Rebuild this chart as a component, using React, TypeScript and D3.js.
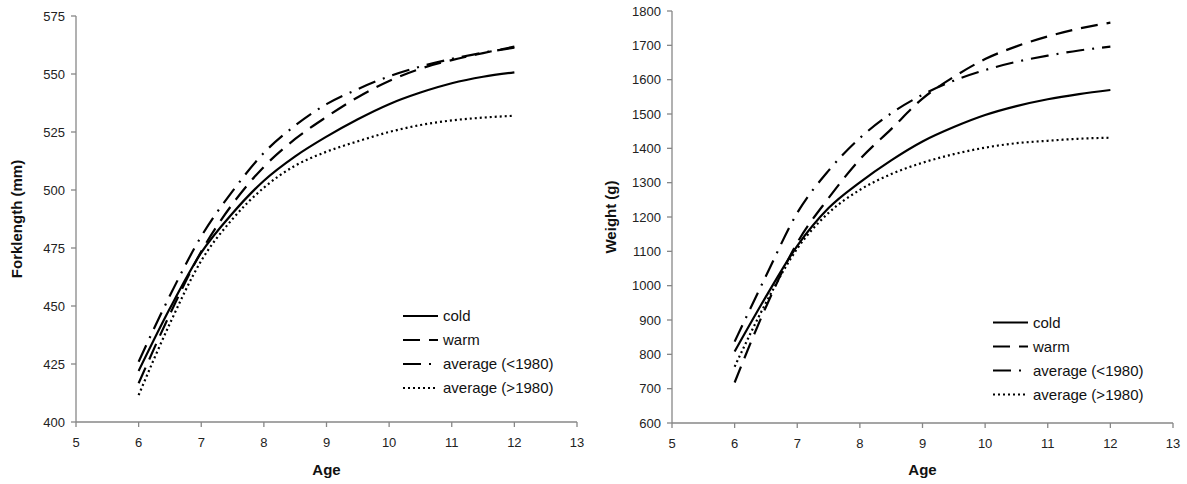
import React from "react";
import * as d3 from "d3";

const ages = [6, 6.5, 7, 7.5, 8, 8.5, 9, 9.5, 10, 10.5, 11, 11.5, 12];
const xTicks = [5, 6, 7, 8, 9, 10, 11, 12, 13];

const flTicks = [400, 425, 450, 475, 500, 525, 550, 575];
const coldFL = [422, 449, 473, 490, 504, 514.5, 523, 530.5, 537, 542, 546, 548.8, 550.7];
const warmFL = [416.7, 446.5, 473.5, 494, 510, 522, 531.5, 540, 547, 552.3, 556, 559, 561.8];
const avgPreFL = [426, 454.5, 480, 499.5, 516, 527.8, 537, 543.5, 549, 553.2, 556.5, 559.2, 561.3];
const avgPostFL = [411.6, 442.5, 469.5, 487.5, 501, 510.5, 516.5, 521, 525, 528, 530, 531.2, 532];

const wTicks = [600, 700, 800, 900, 1000, 1100, 1200, 1300, 1400, 1500, 1600, 1700, 1800];
const coldW = [808, 968, 1116, 1226, 1301, 1365, 1420, 1462, 1497, 1523, 1543, 1558, 1570];
const warmW = [718, 938, 1125, 1255, 1368, 1456, 1545, 1608, 1660, 1697, 1726, 1749, 1766];
const avgPreW = [837, 1028, 1212, 1335, 1430, 1502, 1556, 1597, 1628, 1652, 1670, 1685, 1696];
const avgPostW = [764, 950, 1108, 1212, 1279, 1325, 1358, 1383, 1402, 1415, 1422, 1428, 1431];

const seriesNames = ["cold", "warm", "average (<1980)", "average (>1980)"];
const dashes = ["none", "17 9", "18 8 2 8", "2 3"];

const FONT = "'Liberation Sans', Arial, Helvetica, sans-serif";
const AXIS = "#878787";

type PanelProps = {
  x0: number; x1: number; yTop: number; yBot: number;
  yTicks: number[]; values: number[][];
  yLabel: string; yLabelX: number;
  legX: number; legY: number;
};

function Panel(p: PanelProps) {
  const x = d3.scaleLinear().domain([5, 13]).range([p.x0, p.x1]);
  const y = d3.scaleLinear()
    .domain([p.yTicks[0], p.yTicks[p.yTicks.length - 1]])
    .range([p.yBot, p.yTop]);
  const line = d3.line<number>()
    .x((_, i) => x(ages[i]))
    .y((d) => y(d))
    .curve(d3.curveMonotoneX);
  const yMid = (p.yTop + p.yBot) / 2;
  const xMid = (p.x0 + p.x1) / 2;
  return (
    <g fontFamily={FONT}>
      {/* axes */}
      <line x1={p.x0} x2={p.x0} y1={p.yTop} y2={p.yBot} stroke={AXIS} strokeWidth={1.3} />
      <line x1={p.x0} x2={p.x1} y1={p.yBot} y2={p.yBot} stroke={AXIS} strokeWidth={1.3} />
      {p.yTicks.map((t) => (
        <g key={"y" + t}>
          <line x1={p.x0 - 5} x2={p.x0} y1={y(t)} y2={y(t)} stroke={AXIS} strokeWidth={1.3} />
          <text x={p.x0 - 11} y={y(t)} dy="0.35em" textAnchor="end" fontSize={13} fill="#222">
            {t}
          </text>
        </g>
      ))}
      {xTicks.map((t) => (
        <g key={"x" + t}>
          <line x1={x(t)} x2={x(t)} y1={p.yBot} y2={p.yBot + 5} stroke={AXIS} strokeWidth={1.3} />
          <text x={x(t)} y={p.yBot + 25} textAnchor="middle" fontSize={13} fill="#222">
            {t}
          </text>
        </g>
      ))}
      <text x={xMid} y={475} textAnchor="middle" fontSize={15} fontWeight="bold" fill="#111">
        Age
      </text>
      <text
        transform={`translate(${p.yLabelX},${yMid}) rotate(-90)`}
        textAnchor="middle"
        dy="0.35em"
        fontSize={15}
        fontWeight="bold"
        fill="#111"
      >
        {p.yLabel}
      </text>
      {/* curves */}
      {p.values.map((vals, i) => (
        <path
          key={"s" + i}
          d={line(vals) || ""}
          fill="none"
          stroke="#000"
          strokeWidth={2.2}
          strokeDasharray={dashes[i]}
        />
      ))}
      {/* legend */}
      {seriesNames.map((n, i) => {
        const ly = p.legY + i * 24;
        return (
          <g key={"l" + i}>
            <line
              x1={p.legX}
              x2={p.legX + 35}
              y1={ly}
              y2={ly}
              stroke="#000"
              strokeWidth={2.2}
              strokeDasharray={dashes[i]}
            />
            <text x={p.legX + 40} y={ly} dy="0.35em" fontSize={15} fill="#111">
              {n}
            </text>
          </g>
        );
      })}
    </g>
  );
}

export default function App() {
  return (
    <svg
      width={1187}
      height={484}
      style={{ position: "absolute", left: 0, top: 0, background: "#fff" }}
    >
      <rect width={1187} height={484} fill="#fff" />
      <Panel
        x0={76} x1={577} yTop={16} yBot={422}
        yTicks={flTicks}
        values={[coldFL, warmFL, avgPreFL, avgPostFL]}
        yLabel="Forklength (mm)" yLabelX={17}
        legX={403} legY={316}
      />
      <Panel
        x0={672} x1={1173} yTop={11} yBot={423}
        yTicks={wTicks}
        values={[coldW, warmW, avgPreW, avgPostW]}
        yLabel="Weight (g)" yLabelX={611}
        legX={993} legY={322.5}
      />
    </svg>
  );
}
